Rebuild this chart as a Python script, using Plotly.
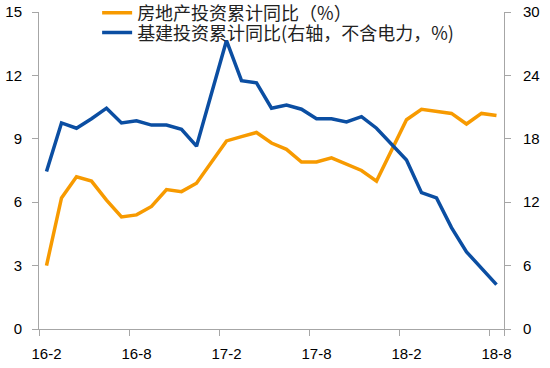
import plotly.graph_objects as go

months = []
for yr in (16, 17, 18):
    last = 8 if yr == 18 else 12
    first = 2 if yr == 16 else 1
    for m in range(first, last + 1):
        months.append(f"{yr}-{m}")

# real estate investment, cumulative y/y (%), None = January (no data)
real_estate = [3.0, 6.2, 7.2, 7.0, 6.1, 5.3, 5.4, 5.8, 6.6, 6.5, 6.9,
               None, 8.9, 9.1, 9.3, 8.8, 8.5, 7.9, 7.9, 8.1, 7.8, 7.5, 7.0,
               None, 9.9, 10.4, 10.3, 10.2, 9.7, 10.2, 10.1]
# infrastructure investment (excl. power), cumulative y/y (%), right axis
infra = [14.9, 19.5, 19.0, 19.9, 20.9, 19.5, 19.7, 19.3, 19.3, 18.9, 17.3,
         None, 27.3, 23.5, 23.3, 20.9, 21.2, 20.8, 19.9, 19.9, 19.6, 20.1, 19.0,
         None, 16.0, 12.9, 12.4, 9.6, 7.3, 5.7, 4.2]
tick_labels = ["16-2", "16-8", "17-2", "17-8", "18-2", "18-8"]

orange = "#F79A00"
blue = "#0B4EA2"

fig = go.Figure()
fig.add_trace(go.Scatter(x=months, y=real_estate, mode="lines", connectgaps=True,
                         name="房地产投资累计同比（%）", legend="legend",
                         line=dict(color=orange, width=3.5)))
fig.add_trace(go.Scatter(x=months, y=infra, mode="lines", connectgaps=True,
                         name="基建投资累计同比(右轴，不含电力，%)", yaxis="y2",
                         legend="legend2",
                         line=dict(color=blue, width=3.5)))

axis_col = "#A6A6A6"
tick_font = dict(family="Liberation Sans", size=15, color="#000000")
leg_font = dict(family="Noto Sans CJK SC", size=18, color="#222222")
fig.update_layout(
    width=550, height=368,
    margin=dict(l=39, r=46, t=12, b=39, autoexpand=False),
    paper_bgcolor="white", plot_bgcolor="white",
    showlegend=True,
    legend=dict(x=0.125, y=0.997, xanchor="left", yanchor="middle",
                bgcolor="rgba(0,0,0,0)", font=leg_font),
    legend2=dict(x=0.125, y=0.934, xanchor="left", yanchor="middle",
                 bgcolor="rgba(0,0,0,0)", font=leg_font),
    xaxis=dict(type="category", categoryorder="array", categoryarray=months,
               range=[-0.5, 30.5], tickmode="array", tickvals=tick_labels,
               tickangle=0, automargin=False, ticklabeloverflow="allow",
               ticklabelstandoff=11,
               tickson="boundaries", ticks="outside", ticklen=6, tickcolor=axis_col,
               showline=True, linecolor=axis_col, linewidth=1, showgrid=False,
               zeroline=False, tickfont=tick_font),
    yaxis=dict(range=[0, 15], dtick=3, ticks="outside", ticklen=6, tickcolor=axis_col,
               showline=True, linecolor=axis_col, linewidth=1, showgrid=False,
               automargin=False, ticklabeloverflow="allow", ticklabelstandoff=7,
               zeroline=False, tickfont=tick_font),
    yaxis2=dict(range=[0, 30], dtick=6, overlaying="y", side="right",
                ticks="outside", ticklen=6, tickcolor=axis_col,
                showline=True, linecolor=axis_col, linewidth=1, showgrid=False,
                automargin=False, ticklabeloverflow="allow", ticklabelstandoff=9,
                zeroline=False, tickfont=tick_font),
)

fig.write_html("out.html", config={"displayModeBar": False},
               post_script="document.body.style.margin='0';document.body.style.padding='0';")
